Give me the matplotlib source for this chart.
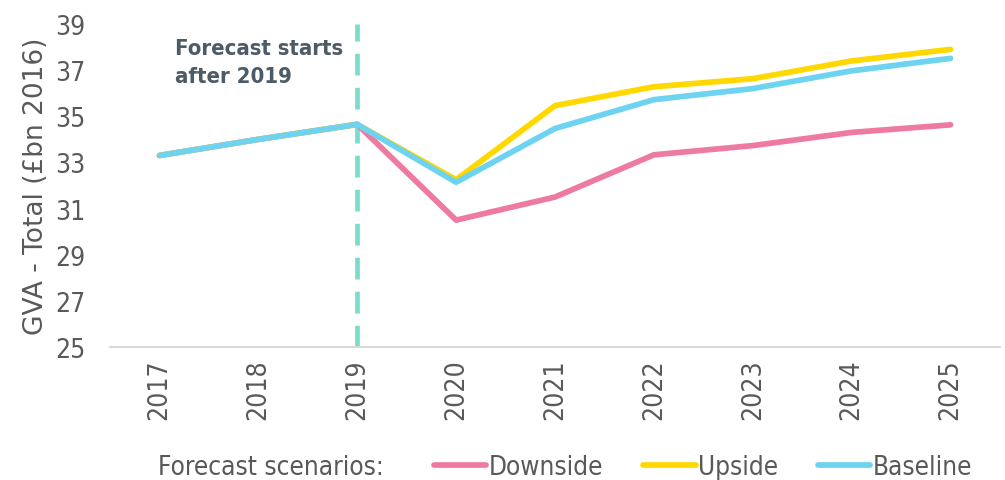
import matplotlib
matplotlib.use("Agg")
import matplotlib.pyplot as plt
from matplotlib.lines import Line2D

years = ["2017", "2018", "2019", "2020", "2021", "2022", "2023", "2024", "2025"]
downside = [33.3, 34.0, 34.65, 30.5, 31.5, 33.33, 33.73, 34.3, 34.63]
upside = [33.3, 34.0, 34.65, 32.25, 35.46, 36.28, 36.63, 37.4, 37.9]
baseline = [33.3, 34.0, 34.65, 32.14, 34.47, 35.72, 36.2, 36.97, 37.51]
yticks = [25, 27, 29, 31, 33, 35, 37, 39]
forecast_year = "2019"

grey = "#595959"
c_down, c_up, c_base = "#EE7A9F", "#FFD800", "#6DD3F0"
cond = {"family": "DejaVu Sans", "stretch": "condensed"}
LW = 4.1

fig = plt.figure(figsize=(10.05, 4.81), dpi=100)
ax = fig.add_axes([110/1005, 1-348/481, 890/1005, 323/481])

x = list(range(len(years)))
ax.plot(x, downside, color=c_down, lw=LW, solid_capstyle="round", zorder=3)
ax.plot(x, upside, color=c_up, lw=LW, solid_capstyle="round", zorder=4)
ax.plot(x, baseline, color=c_base, lw=LW, solid_capstyle="round", zorder=5)

fx = years.index(forecast_year)
ax.axvline(fx, color="#7ADDC9", lw=3.4, dashes=(4.6, 2.6), zorder=2)

ax.set_xlim(-0.5, len(years) - 0.5)
ax.set_ylim(yticks[0], yticks[-1])
ax.set_yticks(yticks)
ax.set_xticks(x)
ax.set_xticklabels(years, rotation=90)
for s in ["top", "right", "left"]:
    ax.spines[s].set_visible(False)
ax.spines["bottom"].set_color("#D9D9D9")
ax.spines["bottom"].set_linewidth(1.5)
ax.tick_params(length=0, labelsize=19, labelcolor=grey)
ax.tick_params(axis="x", pad=8)
ax.tick_params(axis="y", pad=18)
for lab in ax.get_xticklabels() + ax.get_yticklabels():
    lab.set_family(cond["family"])
    lab.set_stretch(cond["stretch"])
ax.set_ylabel("GVA - Total (£bn 2016)", fontsize=19, color=grey, labelpad=4)

ax.text(0.16, 38.38, "Forecast starts\nafter 2019", fontsize=15.8, fontweight="bold",
        color="#4D5B69", va="top", ha="left", linespacing=1.5, family="DejaVu Sans",
        fontstretch="condensed")

fig.text(158/1005, 1-468/481, "Forecast scenarios:", fontsize=18.8, color=grey,
         family=cond["family"], fontstretch=cond["stretch"], va="center", ha="left")
handles = [Line2D([], [], color=c, lw=LW, solid_capstyle="round") for c in (c_down, c_up, c_base)]
leg = fig.legend(handles, ["Downside", "Upside", "Baseline"], loc="center left",
                 bbox_to_anchor=(434/1005, 1-468/481), ncol=3, frameon=False,
                 prop={"family": cond["family"], "stretch": cond["stretch"], "size": 18.8},
                 handlelength=2.0, handletextpad=0.08,
                 columnspacing=1.55, labelcolor=grey, borderaxespad=0, borderpad=0)

fig.savefig("out.png", dpi=100)
